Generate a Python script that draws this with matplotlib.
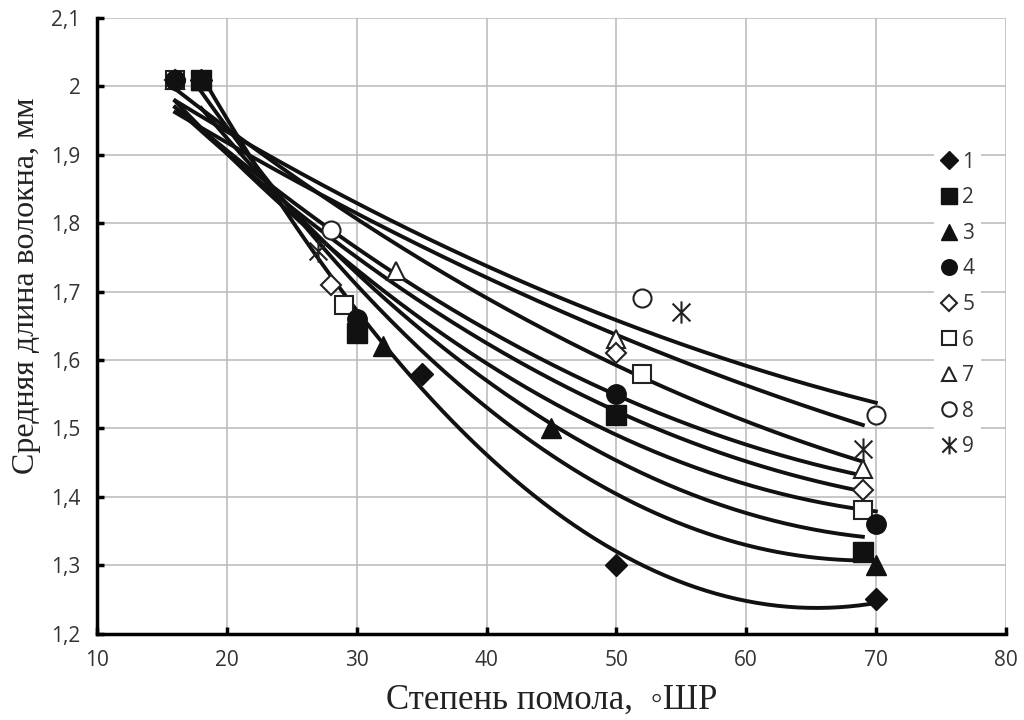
import matplotlib.pyplot as plt
from matplotlib.path import Path
import numpy as np

# степень помола, °ШР and средняя длина волокна, мм for each sample
x1 = [18, 35, 50, 70]
y1 = [2.01, 1.58, 1.30, 1.25]
x2 = [18, 30, 50, 69]
y2 = [2.01, 1.64, 1.52, 1.32]
x3 = [18, 32, 45, 70]
y3 = [2.01, 1.62, 1.50, 1.30]
x4 = [16, 30, 50, 70]
y4 = [2.01, 1.66, 1.55, 1.36]
x5 = [16, 28, 50, 69]
y5 = [2.01, 1.71, 1.61, 1.41]
x6 = [16, 29, 52, 69]
y6 = [2.01, 1.68, 1.58, 1.38]
x7 = [16, 33, 50, 69]
y7 = [2.01, 1.73, 1.63, 1.44]
x8 = [16, 28, 52, 70]
y8 = [2.01, 1.79, 1.69, 1.52]
x9 = [16, 27, 55, 69]
y9 = [2.01, 1.76, 1.67, 1.47]

ytick_vals = [1.2, 1.3, 1.4, 1.5, 1.6, 1.7, 1.8, 1.9, 2.0, 2.1]
ytick_labels = ['1,2', '1,3', '1,4', '1,5', '1,6', '1,7', '1,8', '1,9', '2', '2,1']

# asterisk: vertical bar plus an X
star = Path([(0, -1), (0, 1), (-0.8, -0.8), (0.8, 0.8), (-0.8, 0.8), (0.8, -0.8)],
            [Path.MOVETO, Path.LINETO, Path.MOVETO, Path.LINETO, Path.MOVETO, Path.LINETO])

series = [(x1, y1, 'D', True, '1'), (x2, y2, 's', True, '2'),
          (x3, y3, '^', True, '3'), (x4, y4, 'o', True, '4'),
          (x5, y5, 'D', False, '5'), (x6, y6, 's', False, '6'),
          (x7, y7, '^', False, '7'), (x8, y8, 'o', False, '8'),
          (x9, y9, star, False, '9')]

plt.figure(figsize=(10.24, 7.2), dpi=100)
ax = plt.axes([0.095, 0.12, 0.887, 0.855])

# trend lines (2nd order polynomial) first, markers on top
for xs, ys, m, filled, lab in series:
    c = np.polyfit(xs, ys, 2)
    xx = np.linspace(xs[0], xs[-1], 200)
    ax.plot(xx, np.polyval(c, xx), color='#111111', lw=2.8, zorder=2)

handles = []
for xs, ys, m, filled, lab in series[::-1]:
    sz = 14
    if m == 'D':
        sz = 11
    if filled:
        h, = ax.plot(xs, ys, ls='none', marker=m, ms=sz, color='#111111',
                     zorder=4, label=lab)
    elif m is star:
        h, = ax.plot(xs, ys, ls='none', marker=m, ms=16, color='#222222',
                     mew=1.5, zorder=3, label=lab)
    else:
        h, = ax.plot(xs, ys, ls='none', marker=m, ms=sz - 1, mfc='white',
                     mec='#222222', mew=1.5, color='#222222', zorder=3, label=lab)
    handles.append(h)
handles = handles[::-1]

ax.set_xlim(10, 80)
ax.set_ylim(1.2, 2.1)
ax.set_xticks(np.arange(10, 81, 10))
ax.set_yticks(ytick_vals)
ax.set_yticklabels(ytick_labels)
ax.grid(True, color='#bdbdbd', lw=1.2)
ax.set_axisbelow(True)
for s in ['top', 'right']:
    ax.spines[s].set_visible(False)
for s in ['left', 'bottom']:
    ax.spines[s].set_linewidth(2.5)
ax.tick_params(labelsize=15, width=2.5, length=5, direction='in',
               labelcolor='#333333')
ax.tick_params(axis='x', pad=12)
ax.tick_params(axis='y', pad=12)
for t in ax.get_xticklabels() + ax.get_yticklabels():
    t.set_family(['Open Sans', 'DejaVu Sans'])

ax.set_xlabel('Степень помола,  ◦ШР', family=['Liberation Serif', 'DejaVu Serif'],
              fontsize=25, labelpad=9, color='#222222')
ax.set_ylabel('Средняя длина волокна, мм', family=['Liberation Serif', 'DejaVu Serif'],
              fontsize=23, color='#222222')
ax.yaxis.set_label_coords(-0.062, 0.565)

leg = ax.legend(handles=handles, loc='upper left', bbox_to_anchor=(0.91, 0.81),
                frameon=True, facecolor='white', edgecolor='none', fontsize=15,
                handlelength=0.8, handletextpad=0.25, labelspacing=0.7,
                markerscale=0.8, borderpad=0.3, framealpha=1)
for t in leg.get_texts():
    t.set_family(['Open Sans', 'DejaVu Sans'])
    t.set_color('#333333')

plt.savefig('out.png', dpi=100)
